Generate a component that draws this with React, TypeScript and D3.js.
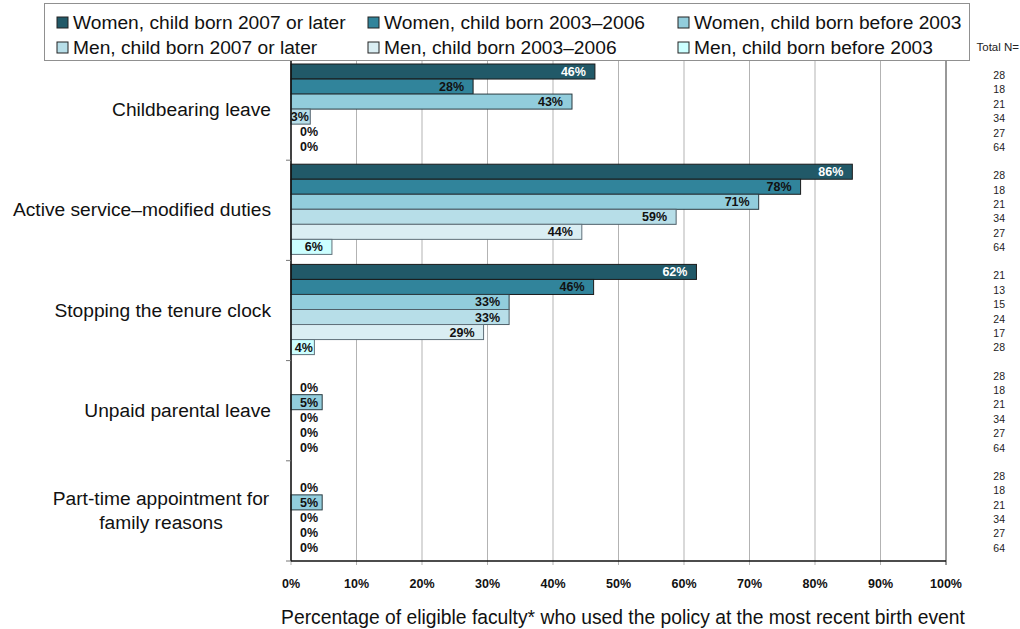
import React from "react";
import * as d3 from "d3";

const categories = [
  "Childbearing leave",
  "Active service–modified duties",
  "Stopping the tenure clock",
  "Unpaid parental leave",
  "Part-time appointment for family reasons",
];
const categoryLines: string[][] = [
  ["Childbearing leave"],
  ["Active service–modified duties"],
  ["Stopping the tenure clock"],
  ["Unpaid parental leave"],
  ["Part-time appointment for", "family reasons"],
];

const seriesNames = [
  "Women, child born 2007 or later",
  "Women, child born 2003–2006",
  "Women, child born before 2003",
  "Men, child born 2007 or later",
  "Men, child born 2003–2006",
  "Men, child born before 2003",
];
const seriesColors = ["#215968", "#31849b", "#92cddc", "#b7dee8", "#daeef3", "#ccffff"];
const seriesStroke = ["#1a1a1a", "#1a1a1a", "#2a3a40", "#50606a", "#60707a", "#60707a"];
const labelColors = ["#ffffff", "#111111", "#111111", "#111111", "#111111", "#111111"];

// values per series (percent), in category order; null = no bar/label
const womenAfter2007: (number | null)[] = [46.4, 85.7, 61.9, null, null];
const women2003to2006: (number | null)[] = [27.8, 77.8, 46.2, 0, 0];
const womenBefore2003: (number | null)[] = [42.9, 71.4, 33.3, 4.76, 4.76];
const menAfter2007: (number | null)[] = [2.94, 58.8, 33.3, 0, 0];
const men2003to2006: (number | null)[] = [0, 44.4, 29.4, 0, 0];
const menBefore2003: (number | null)[] = [0, 6.25, 3.57, 0, 0];
const seriesValues = [womenAfter2007, women2003to2006, womenBefore2003, menAfter2007, men2003to2006, menBefore2003];

// Total N per category, per series
const totalN: number[][] = [
  [28, 18, 21, 34, 27, 64],
  [28, 18, 21, 34, 27, 64],
  [21, 13, 15, 24, 17, 28],
  [28, 18, 21, 34, 27, 64],
  [28, 18, 21, 34, 27, 64],
];

const xTicks = [0, 10, 20, 30, 40, 50, 60, 70, 80, 90, 100];
const xTitle = "Percentage of eligible faculty* who used the policy at the most recent birth event";

const W = 1020;
const H = 629;
const left = 291;
const right = 946;
const top = 60;
const bottom = 561;

export default function App() {
  const x = d3.scaleLinear().domain([0, 100]).range([left, right]);
  const y = d3.scaleBand<number>().domain(d3.range(categories.length)).range([top, bottom]).paddingInner(0);
  const inner = d3
    .scaleBand<number>()
    .domain(d3.range(seriesNames.length))
    .range([4, y.bandwidth() - 6]);

  const font = "'Liberation Sans', Arial, sans-serif";

  const labelEnd = (v: number) => {
    const be = x(v);
    if (v === 0) return x(0) + 27;
    if (v < 4) return be - 1.5;
    return Math.max(be - 9, x(0) + 27);
  };

  const legendCols = [57, 368, 678];
  const legendRows = [22.5, 47.5];

  return (
    <svg width={W} height={H} style={{ position: "absolute", left: 0, top: 0, background: "#fff" }} fontFamily={font}>
      <rect x={0} y={0} width={W} height={H} fill="#fff" />
      {/* gridlines */}
      {xTicks.map((t) => (
        <line
          key={"g" + t}
          x1={x(t)}
          x2={x(t)}
          y1={top}
          y2={bottom + 4}
          stroke={t === 100 ? "#333" : "#b3b3b3"}
          strokeWidth={1}
        />
      ))}
      {/* bars */}
      {categories.map((c, ci) => (
        <g key={c} transform={`translate(0,${y(ci)})`}>
          {seriesValues.map((vals, si) => {
            const v = vals[ci];
            if (v === null) return null;
            const by = inner(si)!;
            const bh = inner.bandwidth();
            return (
              <g key={si}>
                {v > 0 && (
                  <rect
                    x={x(0)}
                    y={by}
                    width={x(v) - x(0)}
                    height={bh}
                    fill={seriesColors[si]}
                    stroke={seriesStroke[si]}
                    strokeWidth={1}
                  />
                )}
                <text
                  x={labelEnd(v)}
                  y={by + bh / 2 + 4.5}
                  textAnchor="end"
                  fontSize={12.5}
                  fontWeight="bold"
                  fill={v > 0 ? labelColors[si] : "#111"}
                >
                  {Math.round(v)}%
                </text>
              </g>
            );
          })}
        </g>
      ))}
      {/* axes */}
      <line x1={left} x2={left} y1={top} y2={bottom} stroke="#111" strokeWidth={1.5} />
      <line x1={left} x2={right} y1={bottom} y2={bottom} stroke="#111" strokeWidth={1.5} />
      {d3.range(categories.length + 1).map((i) => (
        <line
          key={"yt" + i}
          x1={left - 5}
          x2={left}
          y1={top + i * y.bandwidth()}
          y2={top + i * y.bandwidth()}
          stroke="#777"
        />
      ))}
      {xTicks.map((t) => (
        <text key={"xl" + t} x={x(t)} y={588} textAnchor="middle" fontSize={12.5} fontWeight="bold" fill="#111">
          {t}%
        </text>
      ))}
      {/* category labels */}
      {categoryLines.map((lines, ci) => {
        const cy = y(ci)! + y.bandwidth() / 2;
        const n = lines.length;
        return lines.map((ln, li) => (
          <text
            key={ci + "-" + li}
            x={n > 1 ? 161 : 271}
            y={cy + (li - (n - 1) / 2) * 24 + 6}
            textAnchor={n > 1 ? "middle" : "end"}
            fontSize={19.2}
            fill="#111"
          >
            {ln}
          </text>
        ));
      })}
      {/* total N column */}
      <text x={1019} y={51} textAnchor="end" fontSize={11.5} fill="#222">
        Total N=
      </text>
      {totalN.map((row, ci) =>
        row.map((n, si) => (
          <text
            key={"n" + ci + "-" + si}
            x={1005}
            y={y(ci)! + 19 + si * 14.4}
            textAnchor="end"
            fontSize={10.5}
            fill="#222"
          >
            {n}
          </text>
        ))
      )}
      {/* x title */}
      <text x={623} y={624} textAnchor="middle" fontSize={19.3} fill="#111">
        {xTitle}
      </text>
      {/* legend */}
      <rect x={44.5} y={3.5} width={925} height={57} fill="#fff" stroke="#909090" strokeWidth={1} />
      {seriesNames.map((s, i) => {
        const lx = legendCols[i % 3];
        const ly = legendRows[Math.floor(i / 3)];
        return (
          <g key={s}>
            <rect x={lx} y={ly - 5.5} width={11} height={11} fill={seriesColors[i]} stroke="#222" strokeWidth={1} />
            <text x={lx + 16} y={ly + 6.5} fontSize={19.2} fill="#111">
              {s}
            </text>
          </g>
        );
      })}
    </svg>
  );
}
